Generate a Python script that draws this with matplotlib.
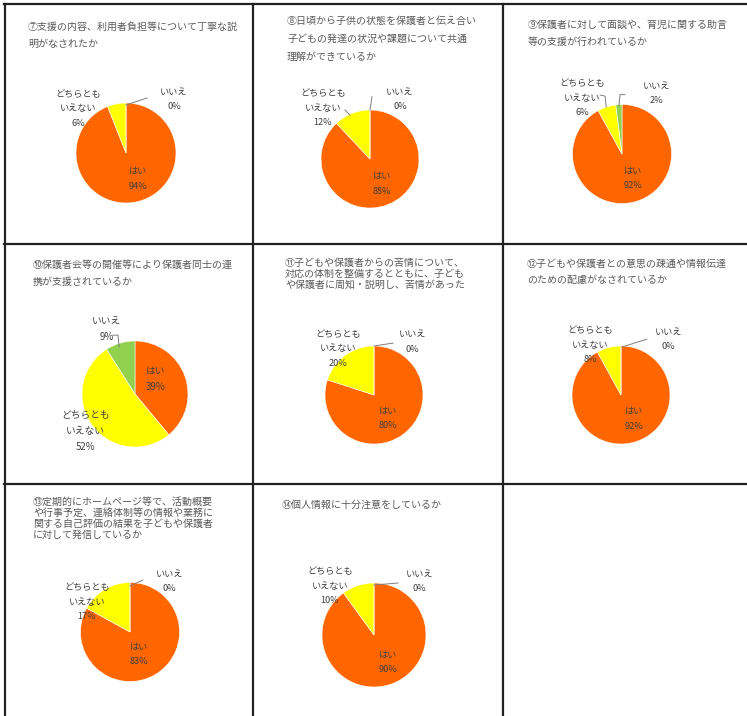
import matplotlib
matplotlib.use('Agg')
import matplotlib.pyplot as plt

plt.rcParams['font.family'] = ['Noto Sans CJK JP', 'DejaVu Sans']

# data
titles = [
    ['⑦支援の内容、利用者負担等について丁寧な説', '明がなされたか'],
    ['⑧日頃から子供の状態を保護者と伝え合い', '子どもの発達の状況や課題について共通', '理解ができているか'],
    ['⑨保護者に対して面談や、育児に関する助言', '等の支援が行われているか'],
    ['⑩保護者会等の開催等により保護者同士の連', '携が支援されているか'],
    ['⑪子どもや保護者からの苦情について、', '対応の体制を整備するとともに、子ども', 'や保護者に周知・説明し、苦情があった'],
    ['⑫子どもや保護者との意思の疎通や情報伝達', 'のための配慮がなされているか'],
    ['⑬定期的にホームページ等で、活動概要', 'や行事予定、連絡体制等の情報や業務に', '関する自己評価の結果を子どもや保護者', 'に対して発信しているか'],
    ['⑭個人情報に十分注意をしているか'],
]
categories = ['はい', 'どちらとも\nいえない', 'いいえ']
hai = [94, 88, 92, 39, 80, 92, 83, 90]
dochira = [6, 12, 6, 52, 20, 8, 17, 10]
iie = [0, 0, 2, 9, 0, 0, 0, 0]
colors = ['#FF6600', '#FFFF00', '#92D050']

# layout (pixels)
W, H = 747, 716
centers = [(126, 153), (370, 159), (622, 154), (135, 394), (374, 395), (621, 395), (130, 632), (374, 635)]
radii = [50, 49, 49.5, 53, 49, 49, 49.5, 52]
title_xy = [(28, 27), (287, 21), (528, 25), (33, 265), (285, 263), (527, 264), (33, 502), (282, 505)]
title_gap = [17, 18, 17, 17, 11, 15.5, 11, 17]
lab_size = [6.6, 6.6, 6.6, 7.0, 6.6, 6.6, 6.6, 6.6]
# label offsets in units of radius: hai, dochira, iie
lab_pos = [
    [(0.24, -0.52), (-0.96, 0.88), (0.96, 1.07)],
    [(0.24, -0.51), (-0.96, 1.04), (0.61, 1.21)],
    [(0.22, -0.50), (-0.81, 1.13), (0.69, 1.22)],
    [(0.38, 0.28), (-0.94, -0.70), (-0.53, 1.22)],
    [(0.29, -0.48), (-0.73, 0.94), (0.78, 1.08)],
    [(0.27, -0.49), (-0.63, 1.02), (0.96, 1.14)],
    [(0.18, -0.45), (-0.87, 0.60), (0.79, 1.02)],
    [(0.27, -0.53), (-0.85, 0.94), (0.88, 1.03)],
]
leaders = [
    [[(0, 0.96), (0.42, 1.1)]],
    [[(0, 1.0), (0.04, 1.27)], [(-0.51, 1.0), (-0.41, 0.9)]],
    [[(-0.06, 0.98), (-0.04, 1.2), (0.06, 1.2)], [(-0.44, 1.19), (-0.34, 1.17), (-0.32, 0.95)]],
    [[(-0.42, 1.11), (-0.32, 1.11), (-0.30, 0.89)]],
    [[(0, 1.0), (0.39, 1.06)]],
    [[(0.02, 0.98), (0.53, 1.14)]],
    [[(0, 0.93), (0.26, 1.05)]],
    [[(0, 0.96), (0.46, 1.0)]],
]

txt_color = '#595959'

fig = plt.figure(figsize=(W / 100, H / 100), dpi=100)

# table borders
def hline(y, x0=0, x1=W):
    fig.add_artist(plt.Line2D([x0 / W, x1 / W], [1 - y / H, 1 - y / H], color='#222222', lw=1.6))

def vline(x, y0=0, y1=H):
    fig.add_artist(plt.Line2D([x / W, x / W], [1 - y0 / H, 1 - y1 / H], color='#222222', lw=1.6))

hline(4, 4)
hline(244, 4)
hline(484, 4)
vline(5, 4)
vline(253, 4)
vline(503, 4)

L = 2.3
for i in range(len(hai)):
    cx, cy = centers[i]
    R = radii[i]
    side = 2 * L * R
    ax = fig.add_axes([(cx - side / 2) / W, 1 - (cy + side / 2) / H, side / W, side / H])
    vals = [hai[i], dochira[i], iie[i]]
    ax.pie(vals, colors=colors, startangle=90, counterclock=False, radius=1,
           wedgeprops=dict(linewidth=0.4, edgecolor='white'))
    ax.set_xlim(-L, L)
    ax.set_ylim(-L, L)
    ax.set_aspect('equal')
    ax.axis('off')
    for k in range(3):
        dx, dy = lab_pos[i][k]
        ax.text(dx, dy, categories[k] + '\n' + f'{vals[k]}%', ha='center', va='center',
                fontsize=lab_size[i], color='#404040', linespacing=1.75, clip_on=False)
    for seg in leaders[i]:
        xs = [p[0] for p in seg]
        ys = [p[1] for p in seg]
        ax.plot(xs, ys, color='#7f7f7f', lw=0.7, clip_on=False)

    tx, ty = title_xy[i]
    for j, line in enumerate(titles[i]):
        fig.text(tx / W, 1 - (ty + j * title_gap[i]) / H, line, ha='left', va='center',
                 fontsize=7.2, color=txt_color)

fig.savefig('out.png', dpi=100)
